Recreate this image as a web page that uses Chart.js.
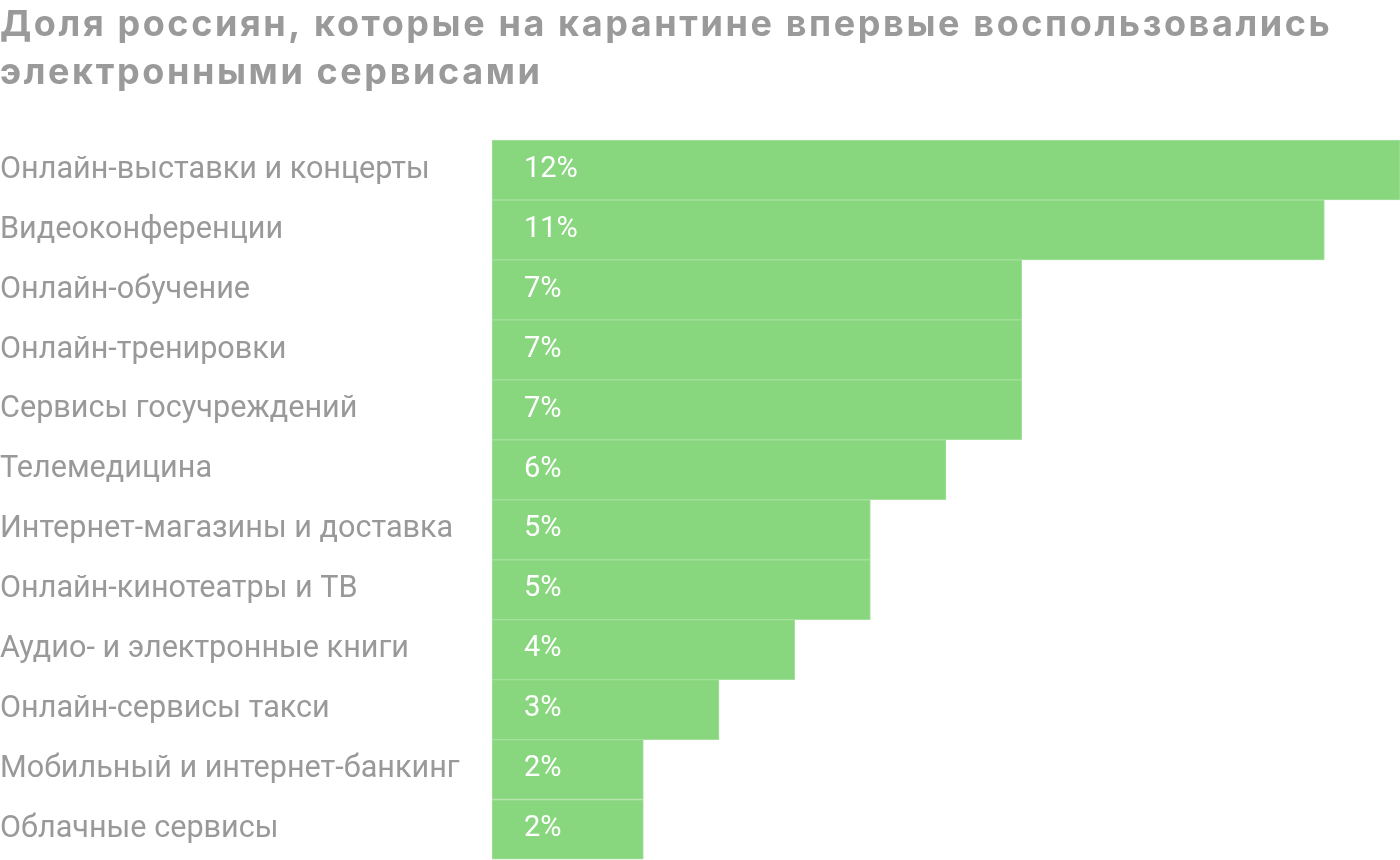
<!DOCTYPE html>
<html>
<head>
<meta charset="utf-8">
<script src="https://cdn.jsdelivr.net/npm/chart.js@4/dist/chart.umd.min.js"></script>
<style>
html,body{margin:0;padding:0;background:#fff;}
#wrap{position:relative;width:1400px;height:860px;}
</style>
</head>
<body>
<div id="wrap"><canvas id="c"></canvas></div>
<script>
const titleLines = ['Доля россиян, которые на карантине впервые воспользовались', 'электронными сервисами'];
const categories = [
  'Онлайн-выставки и концерты',
  'Видеоконференции',
  'Онлайн-обучение',
  'Онлайн-тренировки',
  'Сервисы госучреждений',
  'Телемедицина',
  'Интернет-магазины и доставка',
  'Онлайн-кинотеатры и ТВ',
  'Аудио- и электронные книги',
  'Онлайн-сервисы такси',
  'Мобильный и интернет-банкинг',
  'Облачные сервисы'
];
const shares = [12, 11, 7, 7, 7, 6, 5, 5, 4, 3, 2, 2];

const titlePlugin = {
  id: 'spacedTitle',
  afterDraw(chart) {
    const ctx = chart.ctx;
    ctx.save();
    ctx.fillStyle = '#9a9a9a';
    ctx.font = 'bold 36px Inter';
    if ('letterSpacing' in ctx) ctx.letterSpacing = '2.6px';
    ctx.textAlign = 'left';
    ctx.textBaseline = 'alphabetic';
    titleLines.forEach((line, i) => ctx.fillText(line, 0, 36 + i * 48));
    ctx.restore();
  }
};

const valueLabels = {
  id: 'valueLabels',
  afterDatasetsDraw(chart) {
    const ctx = chart.ctx;
    const meta = chart.getDatasetMeta(0);
    ctx.save();
    ctx.fillStyle = '#ffffff';
    ctx.font = '29px Roboto';
    ctx.textAlign = 'left';
    ctx.textBaseline = 'middle';
    meta.data.forEach((bar, i) => {
      ctx.fillText(shares[i] + '%', bar.base + 32, bar.y - 0.5);
    });
    ctx.restore();
  }
};

new Chart(document.getElementById('c'), {
  type: 'bar',
  data: {
    labels: categories,
    datasets: [{
      data: shares,
      backgroundColor: '#88d67e',
      borderColor: '#a3e09b',
      borderWidth: 1,
      borderSkipped: false,
      categoryPercentage: 1,
      barPercentage: 1
    }]
  },
  options: {
    indexAxis: 'y',
    responsive: true,
    maintainAspectRatio: false,
    animation: false,
    layout: { padding: { top: 140, left: 0, right: 0, bottom: 0 } },
    plugins: {
      legend: { display: false },
      tooltip: { enabled: false },
      title: { display: false }
    },
    scales: {
      x: {
        display: false,
        min: 0,
        max: 12
      },
      y: {
        grid: { display: false },
        border: { display: false },
        afterFit(scale) { scale.width = 492; },
        ticks: {
          crossAlign: 'far',
          padding: 0,
          labelOffset: 0,
          color: '#999999',
          font: { family: 'Roboto', size: 30.6, lineHeight: '1px' }
        }
      }
    }
  },
  plugins: [valueLabels, titlePlugin]
});
</script>
</body>
</html>
